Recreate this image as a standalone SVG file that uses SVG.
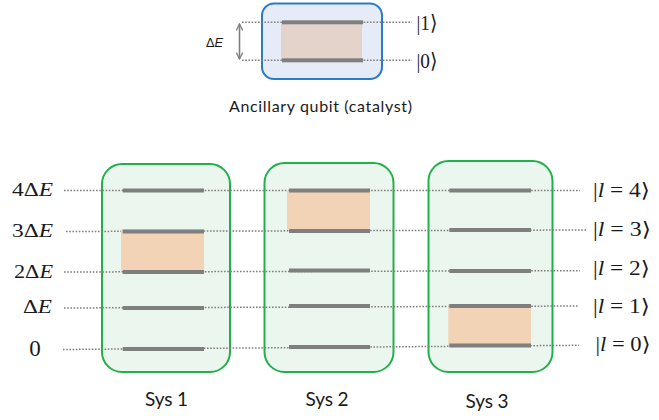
<svg xmlns="http://www.w3.org/2000/svg" width="659" height="420" viewBox="0 0 659 420">
<defs>
<marker id="ah" viewBox="0 0 10 10" refX="9" refY="5" markerWidth="8" markerHeight="8" orient="auto-start-reverse" markerUnits="userSpaceOnUse">
<path d="M1,1 L9,5 L1,9" fill="none" stroke="#7f7f7f" stroke-width="1.6"/>
</marker>
</defs>
<style>
.sys{fill:#ebf7ee;stroke:#22b04b;stroke-width:2}
.bar{fill:#7f7f7f}
.org{fill:#f2d3b6}
.dot{stroke:#7f7f7f;stroke-width:1.5;stroke-dasharray:1.6 1.6;fill:none}
.sans{font-family:Lato,"Liberation Sans",Arial,sans-serif;fill:#1a1a1a}
.math{font-family:"Liberation Serif","DejaVu Serif",serif;fill:#1a1a1a}
</style>
<rect width="659" height="420" fill="#ffffff"/>

<g id="qubit">
<rect x="262" y="3.5" width="120" height="75.5" rx="12" fill="#e6ecf7" stroke="#2a7bc8" stroke-width="2"/>
<rect x="281" y="22" width="81" height="38" fill="#e4d3cb"/>
<line class="dot" x1="242" y1="22.3" x2="412" y2="22.3"/>
<line class="dot" x1="242" y1="60.3" x2="412" y2="60.3"/>
<rect class="bar" x="282" y="20.3" width="81" height="4"/>
<rect class="bar" x="282" y="58.3" width="81" height="4"/>
<line x1="239.5" y1="24" x2="239.5" y2="59" stroke="#7f7f7f" stroke-width="1.6" marker-start="url(#ah)" marker-end="url(#ah)"/>
<text x="206" y="46.5" font-size="13" font-family="'Liberation Sans',Arial,sans-serif" fill="#1a1a1a" textLength="17" lengthAdjust="spacingAndGlyphs">Δ<tspan font-style="italic">E</tspan></text>
<text class="math" x="416.5" y="30" font-size="21" textLength="21" lengthAdjust="spacingAndGlyphs">|1⟩</text>
<text class="math" x="416.5" y="68" font-size="21" textLength="21" lengthAdjust="spacingAndGlyphs">|0⟩</text>
<text class="sans" x="229" y="112" font-size="16" textLength="183">Ancillary qubit (catalyst)</text>
</g>

<g id="sys1">
<rect class="sys" x="102" y="164" width="128" height="208" rx="20"/>
</g>
<g id="sys2">
<rect class="sys" x="264.5" y="163" width="129" height="209" rx="20"/>
</g>
<g id="sys3">
<rect class="sys" x="428.5" y="161" width="124" height="211" rx="20"/>
</g>

<g id="connectors">
<line class="dot" x1="64" y1="190.5" x2="580" y2="190.5"/>
<line class="dot" x1="66" y1="231.5" x2="587" y2="230"/>
<line class="dot" x1="64" y1="272" x2="580" y2="270.7"/>
<line class="dot" x1="64" y1="308" x2="578" y2="306"/>
<line class="dot" x1="63" y1="349.5" x2="579" y2="345.3"/>
</g>

<g id="sys1-levels">
<rect class="org" x="121" y="229.5" width="83" height="41"/>
<rect class="bar" x="122.7" y="188.5" width="81.3" height="4"/>
<rect class="bar" x="122.7" y="229.5" width="81.3" height="4"/>
<rect class="bar" x="122.7" y="270" width="81.3" height="4"/>
<rect class="bar" x="122.7" y="306" width="81.3" height="4"/>
<rect class="bar" x="122.7" y="347" width="81.3" height="4"/>
<text class="sans" x="145" y="406" font-size="19" textLength="43">Sys 1</text>
</g>
<g id="sys2-levels">
<rect class="org" x="287" y="190.5" width="83" height="39"/>
<rect class="bar" x="289" y="188.5" width="81" height="4"/>
<rect class="bar" x="289" y="229" width="81" height="4"/>
<rect class="bar" x="289" y="268.5" width="81" height="4"/>
<rect class="bar" x="289" y="304" width="81" height="4"/>
<rect class="bar" x="289" y="345" width="81" height="4"/>
<text class="sans" x="305.5" y="406" font-size="19" textLength="43">Sys 2</text>
</g>
<g id="sys3-levels">
<rect class="org" x="448.3" y="304" width="82.7" height="41"/>
<rect class="bar" x="449.3" y="188.5" width="81.7" height="4"/>
<rect class="bar" x="449.3" y="228" width="81.7" height="4"/>
<rect class="bar" x="449.3" y="269" width="81.7" height="4"/>
<rect class="bar" x="449.3" y="304" width="81.7" height="4"/>
<rect class="bar" x="449.3" y="343.5" width="81.7" height="4"/>
<text class="sans" x="465.5" y="408" font-size="19" textLength="43">Sys 3</text>
</g>

<g id="energy-labels">
<text class="math" x="12" y="196" font-size="18" textLength="41" lengthAdjust="spacingAndGlyphs">4Δ<tspan font-style="italic">E</tspan></text>
<text class="math" x="12" y="236.5" font-size="18" textLength="41" lengthAdjust="spacingAndGlyphs">3Δ<tspan font-style="italic">E</tspan></text>
<text class="math" x="14" y="277.5" font-size="18" textLength="39" lengthAdjust="spacingAndGlyphs">2Δ<tspan font-style="italic">E</tspan></text>
<text class="math" x="23" y="312.5" font-size="18" textLength="29" lengthAdjust="spacingAndGlyphs">Δ<tspan font-style="italic">E</tspan></text>
<text class="math" x="35" y="355.5" font-size="23" text-anchor="middle">0</text>
</g>

<g id="state-labels">
<text class="math" x="593" y="197" font-size="20" textLength="57" lengthAdjust="spacingAndGlyphs">|<tspan font-style="italic">l</tspan> = 4⟩</text>
<text class="math" x="593" y="236" font-size="20" textLength="58" lengthAdjust="spacingAndGlyphs">|<tspan font-style="italic">l</tspan> = 3⟩</text>
<text class="math" x="593" y="275" font-size="20" textLength="57" lengthAdjust="spacingAndGlyphs">|<tspan font-style="italic">l</tspan> = 2⟩</text>
<text class="math" x="593" y="313" font-size="20" textLength="57" lengthAdjust="spacingAndGlyphs">|<tspan font-style="italic">l</tspan> = 1⟩</text>
<text class="math" x="595.5" y="351" font-size="20" textLength="55" lengthAdjust="spacingAndGlyphs">|<tspan font-style="italic">l</tspan> = 0⟩</text>
</g>
</svg>
